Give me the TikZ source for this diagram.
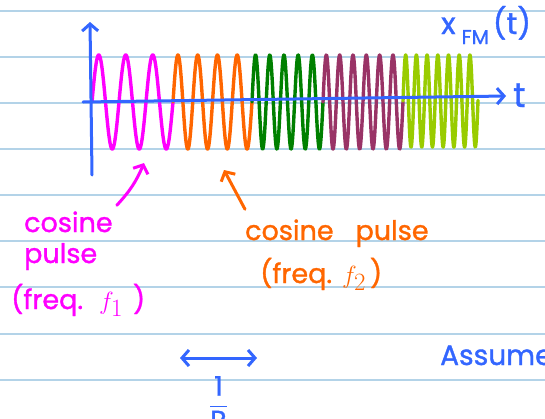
\documentclass[tikz,border=0pt]{standalone}
\usepackage{amsmath}
\usepackage{fontspec}
\setmainfont{Poppins}[FakeBold=1.2]
\usetikzlibrary{arrows.meta, positioning, calc}

\definecolor{paperline}{HTML}{B3D3E8}
\definecolor{inkblue}{HTML}{3366FF}
\definecolor{inkmag}{HTML}{FF00FF}
\definecolor{inkorange}{HTML}{FF6600}
\definecolor{inkgreen}{HTML}{008000}
\definecolor{inkplum}{HTML}{993366}
\definecolor{inklime}{HTML}{99CC00}

\newcommand{\bigf}[1]{{\fontsize{36}{38}\selectfont$f_{#1}$}}

\begin{document}
\begin{tikzpicture}[
    x=1pt, y=-1pt,
    every node/.style={font=\fontsize{27}{30}\selectfont, inner sep=0pt},
    ink/.style={line width=3pt, line cap=round, line join=round},
    wave/.style={ink, line width=3.4pt, samples=400, smooth},
    barb/.style={-{Straight Barb[length=7pt, width=16pt]}},
    bibarb/.style={{Straight Barb[length=7pt, width=16pt]}-{Straight Barb[length=7pt, width=16pt]}}
]
    \useasboundingbox (0,0) rectangle (545,418);
    \fill[white] (0,0) rectangle (545,418);

    % ruled paper
    \foreach \ry in {11,57,103,149,195,241,287,334,380}
        \draw[paperline, line width=1.2pt] (0,\ry) -- (545,\ry);

    % FM signal, one cosine pulse per symbol
    \draw[wave, inkmag] plot[domain=92:173] (\x, {102 - 47*sin((\x-92)/27*360)});
    \draw[wave, inkorange] plot[domain=173:252] (\x, {102 - 47*sin((\x-173)/19.75*360)});
    \draw[wave, inkgreen] plot[domain=252:323] (\x, {102 - 47*sin((\x-252)/14.2*360)});
    \draw[wave, inkplum] plot[domain=323:403] (\x, {102 - 47*sin((\x-323)/13.33*360)});
    \draw[wave, inklime] plot[domain=403:478] (\x, {101 - 46*sin((\x-403)/10.71*360)});

    % axes
    \coordinate (yfoot) at (92,175);
    \coordinate (ytop) at (90,22);
    \coordinate (xfoot) at (83,102);
    \coordinate (xtip) at (506,96);
    \draw[ink, inkblue, barb] (yfoot) -- (ytop);
    \draw[ink, inkblue, barb] (xfoot) -- (xtip);
    \node[text=inkblue, font=\fontsize{34}{36}\selectfont, anchor=base west] (tlabel) at (513,107) {t};
    \node[text=inkblue, font=\fontsize{30}{32}\selectfont, anchor=base west] (xlabel) at (441,34)
        {x\hspace{6pt}\raisebox{-10pt}{\fontsize{20}{22}\selectfont FM}\hspace{4pt}(t)};

    % labels
    \node[text=inkmag, anchor=base west] (cos1) at (24,232) {cosine};
    \node[text=inkmag, anchor=base west] (pulse1) at (24,263) {pulse};
    \node[text=inkmag, anchor=base west] (freq1) at (11,309) {(freq.\hspace{16pt}\bigf{1}\hspace{10pt})};
    \node[text=inkorange, anchor=base west] (cos2) at (245,240) {cosine\hspace{22pt}pulse};
    \node[text=inkorange, anchor=base west] (freq2) at (260,283) {(freq.\hspace{10pt}\bigf{2}\hspace{4pt})};

    \coordinate (tip1) at (144,163);
    \coordinate (tip2) at (224,170);
    \draw[ink, inkmag, barb] ([shift={(4,-6)}]cos1.north east) to[bend right=10] (tip1);
    \draw[ink, inkorange, barb] ([shift={(0,-10)}]cos2.north west) -- (tip2);

    % symbol period
    \coordinate (spanl) at (180,358);
    \coordinate (spanr) at (257,358);
    \draw[ink, inkblue, bibarb] (spanl) -- (spanr);
    \node[text=inkblue, below=18pt of $(spanl)!0.5!(spanr)$] (rate) {$\dfrac{\text{1}}{\text{R}}$};
    \node[text=inkblue, font=\fontsize{28}{30}\selectfont, anchor=base west] (assume) at (440,365) {Assume};

\end{tikzpicture}
\end{document}
